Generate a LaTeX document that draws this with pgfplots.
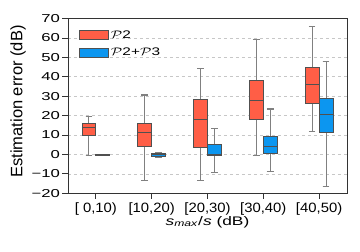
\documentclass[border=0pt]{standalone}
\usepackage{graphicx}
\usepackage{pgfplots}
\pgfplotsset{compat=1.18}
\usepgfplotslibrary{statistics}
\usepackage{fontspec}
\setmainfont{Liberation Sans}
\setsansfont{Liberation Sans}
\newfontfamily\wideA{Liberation Sans}[FakeStretch=1.45]
\newfontfamily\wideB{Liberation Sans}[FakeStretch=1.1]
\newfontfamily\wideC{Liberation Sans}[FakeStretch=1.4]
\newcommand{\PP}{\scalebox{1.35}[1]{$\mathcal{P}$}}
\definecolor{redbox}{RGB}{255,94,70}
\definecolor{bluebox}{RGB}{12,150,240}
\definecolor{edge}{RGB}{80,80,80}
\definecolor{whisk}{RGB}{128,128,128}
\begin{document}
\begin{tikzpicture}
\useasboundingbox (-68pt,-58.7pt) rectangle (292pt,193.3pt);
\begin{axis}[
 scale only axis, width=279pt, height=174.8pt,
 at={(0pt,0pt)}, anchor=south west,
 xmin=-0.5, xmax=4.5, ymin=-20, ymax=70,
 xtick={0,1,2,3,4},
 xticklabels={{[ 0,10)},{[10,20)},{[20,30)},{[30,40)},{[40,50)}},
 ytick={-20,-10,0,10,20,30,40,50,60,70},
 yticklabels={−20,−10,0,10,20,30,40,50,60,70},
 tick align=outside, tick pos=left, major tick length=5.5pt,
 tick style={black!80, line width=0.8pt},
 ymajorgrids, grid style={dashed, black!22, line width=0.7pt},
 axis line style={draw=black!80, line width=0.9pt},
 yticklabel style={font=\fontsize{11.5}{13}\wideA, xshift=1pt},
 xticklabel style={font=\fontsize{13.5}{15}\wideB},
 xlabel style={font=\fontsize{12.4}{14}\wideC, at={(axis description cs:0.5,-0.164)}, anchor=center},
 ylabel style={font=\fontsize{16.5}{18}\selectfont, at={(axis description cs:-0.179,0.525)}, anchor=center},
 xlabel={\textit{s}\textsubscript{\textit{max}}/\textit{s} (dB)},
 ylabel={Estimation error (dB)},
 boxplot/draw direction=y,
 boxplot/every whisker/.style={whisk, line width=1.1pt},
 boxplot/every median/.style={edge, line width=1pt},
 legend style={at={(0,1)}, anchor=north west, xshift=8pt, yshift=-8pt,
   draw=none, fill=none, font=\fontsize{11}{13}\wideC, row sep=4pt},
 legend cell align=left,
 legend image code/.code={\draw[#1] (0pt,-4.5pt) rectangle (29pt,4.5pt);},
]
\addlegendimage{fill=redbox, draw=edge, line width=0.8pt}
\addlegendentry{\PP2}
\addlegendimage{fill=bluebox, draw=edge, line width=0.8pt}
\addlegendentry{\PP2+\PP3}
% P2 (red)
\addplot[forget plot, fill=redbox, draw=edge, line width=0.8pt, boxplot prepared={draw position=-0.125, box extend=0.25, whisker extend=0.12,
  lower whisker=-0.4, lower quartile=9.6, median=13.9, upper quartile=16.0, upper whisker=19.4}] coordinates {};
\addplot[forget plot, fill=redbox, draw=edge, line width=0.8pt, boxplot prepared={draw position=0.875, box extend=0.25, whisker extend=0.12,
  lower whisker=-13.6, lower quartile=3.9, median=11.1, upper quartile=16.0, upper whisker=30.6}] coordinates {};
\addplot[forget plot, fill=redbox, draw=edge, line width=0.8pt, boxplot prepared={draw position=1.875, box extend=0.25, whisker extend=0.12,
  lower whisker=-13.2, lower quartile=3.6, median=18.0, upper quartile=28.4, upper whisker=44.1}] coordinates {};
\addplot[forget plot, fill=redbox, draw=edge, line width=0.8pt, boxplot prepared={draw position=2.875, box extend=0.25, whisker extend=0.12,
  lower whisker=-0.4, lower quartile=18.2, median=28.0, upper quartile=38.1, upper whisker=59.3}] coordinates {};
\addplot[forget plot, fill=redbox, draw=edge, line width=0.8pt, boxplot prepared={draw position=3.875, box extend=0.25, whisker extend=0.12,
  lower whisker=12.0, lower quartile=26.1, median=36.1, upper quartile=45.0, upper whisker=65.8}] coordinates {};
% P2+P3 (blue)
\addplot[forget plot, fill=bluebox, draw=edge, line width=0.8pt, boxplot prepared={draw position=0.125, box extend=0.25, whisker extend=0.12,
  lower whisker=-0.5, lower quartile=-0.35, median=-0.25, upper quartile=-0.15, upper whisker=0.0}] coordinates {};
\addplot[forget plot, fill=bluebox, draw=edge, line width=0.8pt, boxplot prepared={draw position=1.125, box extend=0.25, whisker extend=0.12,
  lower whisker=-1.3, lower quartile=-1.0, median=0.0, upper quartile=0.4, upper whisker=0.8}] coordinates {};
\addplot[forget plot, fill=bluebox, draw=edge, line width=0.8pt, boxplot prepared={draw position=2.125, box extend=0.25, whisker extend=0.12,
  lower whisker=-9.5, lower quartile=-0.7, median=0.0, upper quartile=5.2, upper whisker=13.4}] coordinates {};
\addplot[forget plot, fill=bluebox, draw=edge, line width=0.8pt, boxplot prepared={draw position=3.125, box extend=0.25, whisker extend=0.12,
  lower whisker=-8.9, lower quartile=0.7, median=4.3, upper quartile=9.4, upper whisker=23.4}] coordinates {};
\addplot[forget plot, fill=bluebox, draw=edge, line width=0.8pt, boxplot prepared={draw position=4.125, box extend=0.25, whisker extend=0.12,
  lower whisker=-16.3, lower quartile=11.1, median=20.6, upper quartile=28.7, upper whisker=48.0}] coordinates {};
\end{axis}
\end{tikzpicture}
\end{document}
